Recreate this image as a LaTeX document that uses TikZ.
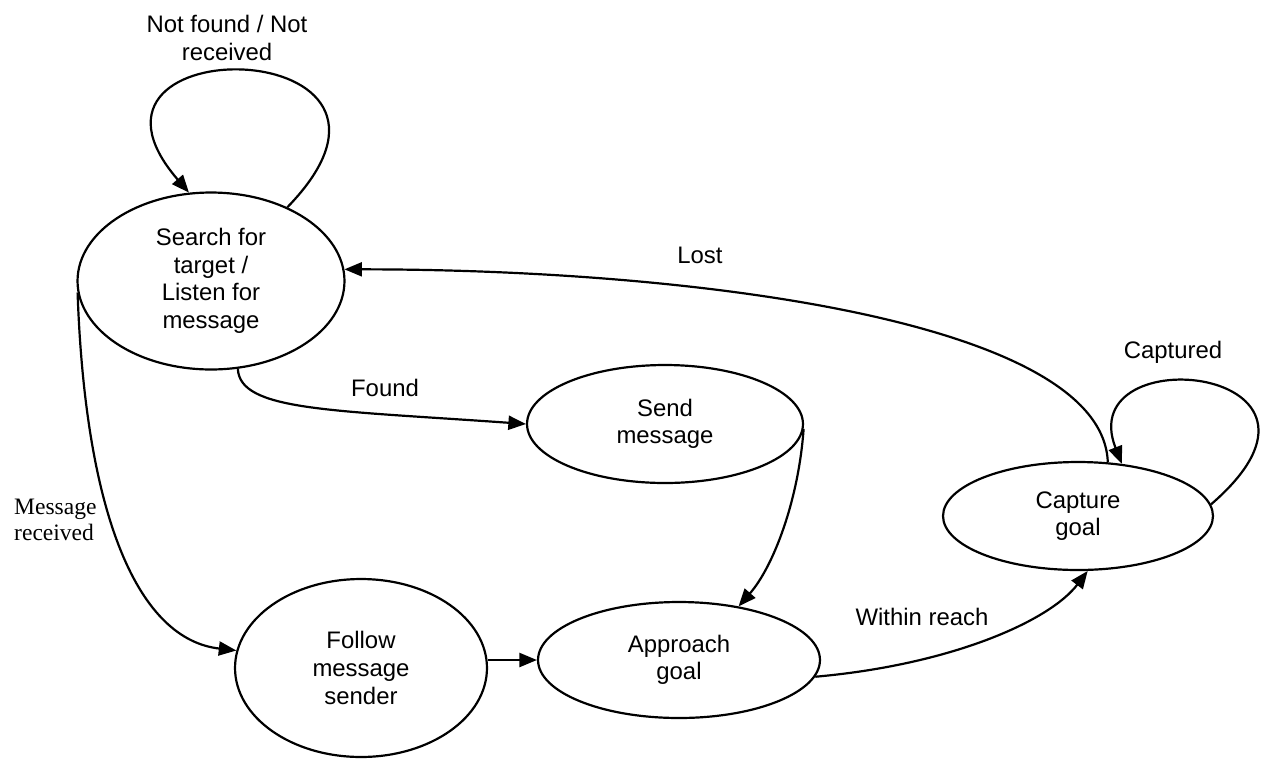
\documentclass[tikz,border=0pt]{standalone}
\usepackage{fontspec}
\setmainfont{Liberation Sans}
\newfontfamily\timesfont{Liberation Serif}
\usetikzlibrary{shapes.geometric,arrows.meta}

\begin{document}
\begin{tikzpicture}[x=0.02cm, y=-0.02cm,
    font=\fontsize{13.6}{15.7}\selectfont,
    state/.style={ellipse, draw, line width=1.25pt, inner sep=0pt, align=center},
    trans/.style={line width=1.25pt, -{Triangle[length=10pt,width=8pt]}}]
    \useasboundingbox (0,0) rectangle (1264,768);

    % states
    \node[state, minimum width=5.34cm, minimum height=3.54cm] (search) at (211,281)
        {Search for\\target /\\Listen for\\message};
    \node[state, minimum width=5.52cm, minimum height=2.36cm] (send) at (665,424)
        {Send\\message};
    \node[state, minimum width=5.4cm, minimum height=2.16cm] (cap) at (1078,516)
        {Capture\\goal};
    \node[state, minimum width=5.04cm, minimum height=3.56cm] (follow) at (361,668)
        {Follow\\message\\sender};
    \node[state, minimum width=5.64cm, minimum height=2.32cm] (approach) at (679,660)
        {Approach\\goal};

    % labels
    \node[align=center] (notfound) at (227,38) {Not found / Not\\received};
    \node (lost) at (700,255) {Lost};
    \node (found) at (385,388) {Found};
    \node (captured) at (1173,352) {Captured};
    \node (reach) at (922,617) {Within reach};
    \node[anchor=west, align=left, font=\timesfont\fontsize{13.4}{14.8}\selectfont]
        (msgrec) at (8,520) {Message\\received};

    % transitions
    \draw[trans] (search.44) .. controls +(170,-175) and +(-145,-168) .. (search.104);
    \draw[trans] (cap.5) .. controls +(160,-138) and +(-50,-128) .. (cap.50);
    \draw[trans] (cap.61) .. controls +(-5,-140) and +(355,0) .. (search.5);
    \draw[trans] (search.-73) .. controls +(2,42) and +(-197,-14) .. (send.west);
    \draw[trans] (search.185) .. controls +(8,227) and +(-97,-11) .. (follow.172);
    \draw[trans] (send.-2) .. controls +(-5,71) and +(35,-40) .. (approach.42);
    \draw[trans] (approach.west -| follow.east) -- (approach.west);
    \draw[trans] (approach.-7) .. controls +(136,-12) and +(-38,50) .. (cap.-80);
\end{tikzpicture}
\end{document}
